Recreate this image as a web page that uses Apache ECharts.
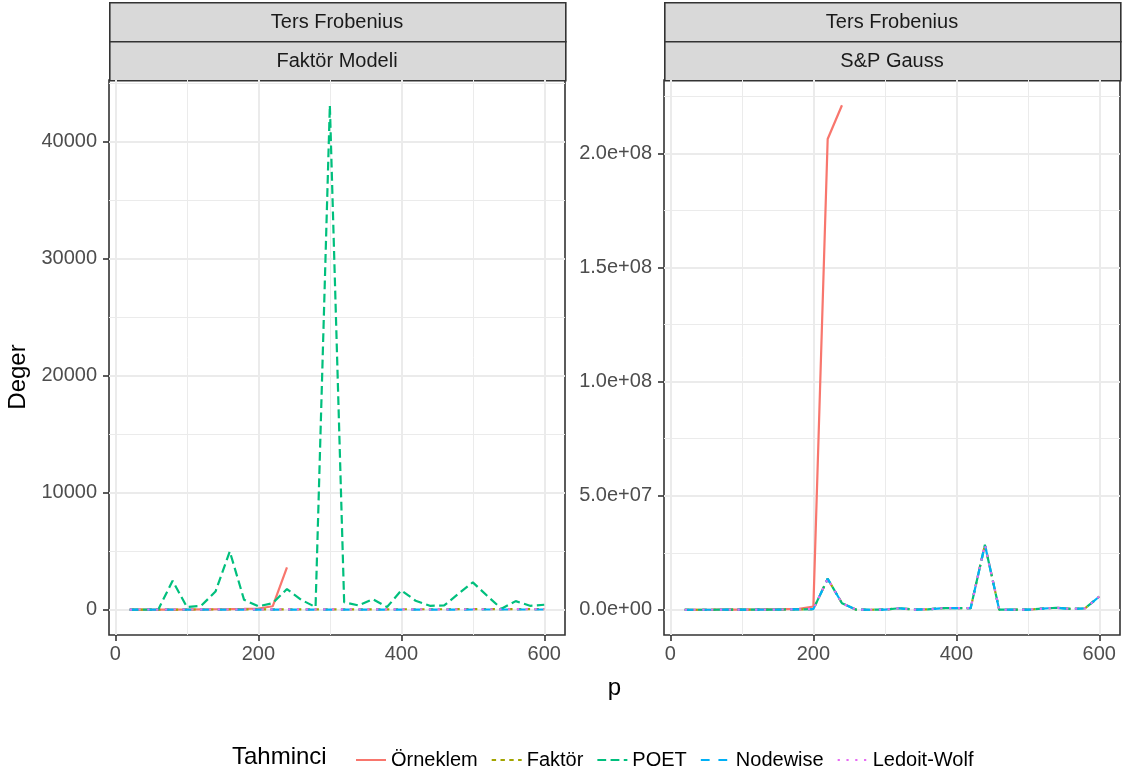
<!DOCTYPE html>
<html>
<head>
<meta charset="utf-8">
<script src="https://cdn.jsdelivr.net/npm/echarts@6/dist/echarts.min.js"></script>
<style>
  html, body { margin: 0; background: #fff; }
  #chart { width: 1134px; height: 774px; }
</style>
</head>
<body>
<div id="chart"></div>
<script>
const pValues = [20, 40, 60, 80, 100, 120, 140, 160, 180, 200, 220, 240, 260, 280, 300,
  320, 340, 360, 380, 400, 420, 440, 460, 480, 500, 520, 540, 560, 580, 600];

const seriesNames = ['Örneklem', 'Faktör', 'POET', 'Nodewise', 'Ledoit-Wolf'];
const panelTitles = ['Faktör Modeli', 'S&P Gauss'];
const stripTitle = 'Ters Frobenius';

// Faktör Modeli panel
const fmOrneklem = [5, 8, 12, 18, 25, 35, 45, 60, 80, 110, 300, 3620];
const fmFaktor = [15, 18, 16, 21, 19, 24, 22, 27, 25, 30, 28, 33, 31, 36, 34, 38, 37, 41, 39, 44, 42, 47, 45, 49, 48, 52, 50, 55, 53, 57];
const fmPoet = [0, 10, 30, 2480, 230, 340, 1560, 4980, 850, 290, 570, 1770, 850, 230, 43100,
  650, 370, 910, 230, 1660, 770, 340, 370, 1370, 2340, 1200, 90, 740, 340, 430];
const fmNodewise = [6, 7, 6, 8, 9, 8, 10, 11, 10, 12, 13, 12, 14, 15, 14, 16, 17, 16, 18, 19, 18, 20, 21, 20, 22, 23, 22, 24, 25, 24];
const fmLedoit = [20, 22, 21, 24, 23, 26, 25, 28, 27, 30, 29, 32, 31, 34, 33, 36, 35, 38, 37, 40, 39, 42, 41, 44, 43, 46, 45, 48, 47, 50];

// S&P Gauss panel
const spOrneklem = [20000, 40000, 60000, 90000, 120000, 160000, 220000, 300000, 420000, 1450000, 206400000, 221200000];
const spFaktor = [30000, 30000, 40000, 50000, 60000, 80000, 100000, 150000, 200000, 300000, 13600000, 2900000, 50000, 40000, 60000,
  700000, 100000, 200000, 700000, 700000, 700000, 28500000, 50000, 100000, 50000, 500000, 900000, 400000, 600000, 5800000];
const spPoet = [30000, 30000, 40000, 50000, 60000, 80000, 100000, 150000, 200000, 300000, 13600000, 2900000, 50000, 40000, 60000,
  700000, 100000, 200000, 700000, 700000, 700000, 28500000, 50000, 100000, 50000, 500000, 900000, 400000, 600000, 5800000];
const spNodewise = [30000, 30000, 40000, 50000, 60000, 80000, 100000, 150000, 200000, 300000, 13600000, 2900000, 50000, 40000, 60000,
  700000, 100000, 200000, 700000, 700000, 700000, 28500000, 50000, 100000, 50000, 500000, 900000, 400000, 600000, 5800000];
const spLedoit = [30000, 30000, 40000, 50000, 60000, 80000, 100000, 150000, 200000, 300000, 13600000, 2900000, 50000, 40000, 60000,
  700000, 100000, 200000, 700000, 700000, 700000, 28500000, 50000, 100000, 50000, 500000, 900000, 400000, 600000, 5800000];

const xMajor = [0, 200, 400, 600];
const xMinor = [100, 300, 500];
const fmMajor = [0, 10000, 20000, 30000, 40000];
const fmMinor = [5000, 15000, 25000, 35000, 45000];
const spMajor = [0, 50000000, 100000000, 150000000, 200000000];
const spMinor = [25000000, 75000000, 125000000, 175000000, 225000000];

const colors = ['#F8766D', '#A3A500', '#00BF7D', '#00B0F6', '#E76BF3'];
const dashes = ['solid', [4.4, 4.4], [8.8, 4.4], [8.8, 8.8], [2.2, 6.6]];
const FONT = 'Liberation Sans, Arial, sans-serif';

const panels = [
  [fmOrneklem, fmFaktor, fmPoet, fmNodewise, fmLedoit],
  [spOrneklem, spFaktor, spPoet, spNodewise, spLedoit]
];

// ggplot style 5% expansion
function expand(lo, hi) {
  const d = hi - lo;
  return [lo - 0.05 * d, hi + 0.05 * d];
}
const xLim = expand(Math.min(...pValues), Math.max(...pValues));
const yLims = panels.map(arrs => {
  const all = [].concat(...arrs);
  return expand(Math.min(...all), Math.max(...all));
});

function sci(v) {
  if (v === 0) return '0.0e+00';
  const e = Math.floor(Math.log10(Math.abs(v)));
  const m = v / Math.pow(10, e);
  return m.toFixed(1) + 'e' + (e < 0 ? '-' : '+') + String(Math.abs(e)).padStart(2, '0');
}

const gridLeft = [109, 664];
const gridTop = 80;
const gridW = 456;
const gridH = 555;

const grids = gridLeft.map(l => ({
  left: l, top: gridTop, width: gridW, height: gridH,
  show: true, borderColor: '#333333', borderWidth: 1.6,
  outerBoundsMode: 'none'
}));

const xAxes = [];
const yAxes = [];
[0, 1].forEach(g => {
  xAxes.push({
    type: 'value', gridIndex: g, min: xLim[0], max: xLim[1], position: 'bottom',
    axisLine: { show: false, onZero: false },
    axisTick: { show: true, length: 6, lineStyle: { color: '#333333', width: 1.6 }, customValues: xMajor },
    axisLabel: { customValues: xMajor, color: '#4D4D4D', fontSize: 20, fontFamily: FONT, margin: 9, formatter: v => String(v) },
    splitLine: { show: true, lineStyle: { color: '#EBEBEB', width: 2 } }
  });
  xAxes.push({
    type: 'value', gridIndex: g, min: xLim[0], max: xLim[1], position: 'bottom',
    axisLine: { show: false, onZero: false },
    axisTick: { show: false, customValues: xMinor },
    axisLabel: { show: false, customValues: xMinor },
    splitLine: { show: true, lineStyle: { color: '#EBEBEB', width: 1 } }
  });
  const major = g === 0 ? fmMajor : spMajor;
  const minor = g === 0 ? fmMinor : spMinor;
  yAxes.push({
    type: 'value', gridIndex: g, min: yLims[g][0], max: yLims[g][1], position: 'left',
    axisLine: { show: false, onZero: false },
    axisTick: { show: true, length: 6, lineStyle: { color: '#333333', width: 1.6 }, customValues: major },
    axisLabel: { customValues: major, color: '#4D4D4D', fontSize: 20, fontFamily: FONT, margin: 12,
      formatter: g === 0 ? (v => String(v)) : sci },
    splitLine: { show: true, lineStyle: { color: '#EBEBEB', width: 2 } }
  });
  yAxes.push({
    type: 'value', gridIndex: g, min: yLims[g][0], max: yLims[g][1], position: 'left',
    axisLine: { show: false, onZero: false },
    axisTick: { show: false, customValues: minor },
    axisLabel: { show: false, customValues: minor },
    splitLine: { show: true, lineStyle: { color: '#EBEBEB', width: 1 } }
  });
});

const series = [];
panels.forEach((arrs, g) => {
  arrs.forEach((vals, i) => {
    series.push({
      name: seriesNames[i],
      type: 'line',
      xAxisIndex: g * 2,
      yAxisIndex: g * 2,
      data: vals.map((v, k) => [pValues[k], v]),
      showSymbol: false,
      symbol: 'none',
      color: colors[i],
      lineStyle: { color: colors[i], width: 2.2, type: dashes[i] },
      z: 3 + i
    });
  });
});

const graphic = [];
gridLeft.forEach((l, g) => {
  [[2, stripTitle], [41, panelTitles[g]]].forEach(([top, txt]) => {
    graphic.push({
      type: 'rect', left: l, top: top,
      shape: { width: gridW, height: 39 },
      style: { fill: '#D9D9D9', stroke: '#333333', lineWidth: 1.6 }
    });
    graphic.push({
      type: 'text', x: l + gridW / 2, y: top + 20,
      style: { text: txt, fontSize: 20, fontFamily: FONT, fill: '#1A1A1A', align: 'center', verticalAlign: 'middle' }
    });
  });
});
graphic.push({
  type: 'text', x: 18, y: 377, rotation: Math.PI / 2,
  style: { text: 'Deger', fontSize: 24, fontFamily: FONT, fill: '#000', align: 'center', verticalAlign: 'middle' }
});
graphic.push({
  type: 'text', x: 614.5, y: 688,
  style: { text: 'p', fontSize: 24, fontFamily: FONT, fill: '#000', align: 'center', verticalAlign: 'middle' }
});
graphic.push({
  type: 'text', x: 232, y: 757,
  style: { text: 'Tahminci', fontSize: 24, fontFamily: FONT, fill: '#000', align: 'left', verticalAlign: 'middle' }
});

const chart = echarts.init(document.getElementById('chart'), null, { renderer: 'canvas' });
chart.setOption({
  animation: false,
  backgroundColor: '#ffffff',
  grid: grids,
  xAxis: xAxes,
  yAxis: yAxes,
  legend: {
    data: seriesNames,
    left: 350, top: 745,
    itemWidth: 30, itemHeight: 20, itemGap: 13,
    itemStyle: { opacity: 0 },
    textStyle: { fontSize: 20, fontFamily: FONT, color: '#000' }
  },
  graphic: graphic,
  series: series
});
</script>
</body>
</html>
